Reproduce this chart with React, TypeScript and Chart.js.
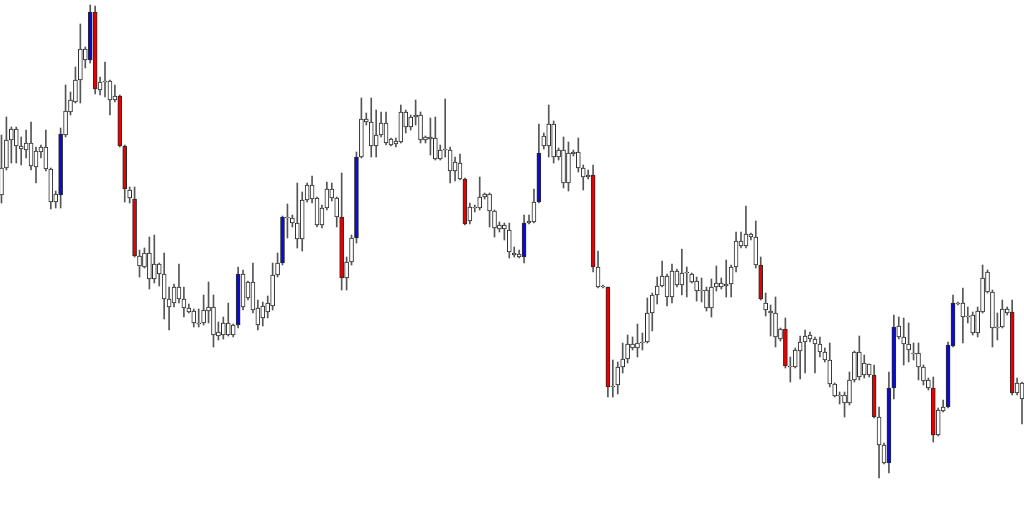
import { useEffect, useRef } from "react";
import { Chart, registerables } from "chart.js";

Chart.register(...registerables);

// Price levels on a downward (reversed) scale: smaller = higher price.
const wickTop = [
  135, 117, 127, 127, 137, 130, 122, 147, 145, 130,
  168, 191, 128, 85, 92, 67, 24, 47, 5, 6,
  77, 62, 80, 85, 95, 145, 187, 187, 250, 248,
  237, 235, 263, 253, 287, 284, 264, 287, 304, 309,
  309, 295, 282, 295, 322, 317, 303, 324, 267, 270,
  281, 263, 300, 302, 296, 263, 253, 216, 204, 215,
  183, 192, 183, 176, 197, 205, 182, 183, 197, 173,
  257, 235, 152, 98, 113, 98, 110, 112, 112, 138,
  138, 105, 110, 115, 100, 112, 136, 118, 117, 145,
  99, 147, 157, 154, 178, 203, 205, 177, 193, 193,
  210, 222, 223, 223, 247, 250, 215, 215, 189, 124,
  133, 105, 121, 148, 137, 142, 150, 138, 165, 170,
  165, 251, 285, 287, 360, 362, 343, 335, 337, 324,
  333, 298, 293, 277, 261, 274, 264, 269, 249, 267,
  273, 277, 278, 287, 279, 266, 278, 260, 265, 232,
  232, 206, 233, 221, 257, 293, 305, 297, 328, 318,
  357, 348, 336, 330, 332, 337, 337, 348, 343, 383,
  392, 392, 372, 351, 336, 355, 364, 365, 407, 443,
  372, 315, 317, 318, 323, 343, 343, 365, 378, 377,
  408, 400, 342, 295, 302, 288, 307, 312, 307, 265,
  270, 290, 313, 300, 307, 300, 378, 382,
];

const openLevel = [
  168, 140, 129, 129, 146, 143, 143, 151, 147, 147,
  169, 194, 195, 111, 100, 80, 49, 49, 60, 12,
  82, 81, 81, 96, 96, 146, 190, 199, 256, 253,
  253, 264, 264, 274, 299, 287, 287, 299, 308, 311,
  323, 310, 307, 307, 332, 323, 323, 325, 325, 274,
  282, 282, 308, 306, 303, 275, 263, 263, 217, 218,
  223, 200, 185, 185, 198, 208, 189, 189, 198, 217,
  262, 238, 238, 119, 119, 122, 135, 123, 123, 139,
  141, 112, 112, 117, 115, 115, 137, 137, 138, 150,
  149, 150, 162, 163, 179, 207, 207, 197, 194, 194,
  211, 225, 225, 230, 253, 254, 257, 221, 202, 202,
  136, 124, 124, 150, 150, 153, 152, 152, 168, 175,
  175, 267, 286, 287, 386, 367, 359, 344, 344, 343,
  342, 313, 295, 286, 276, 276, 271, 271, 273, 272,
  274, 281, 290, 290, 287, 283, 283, 284, 267, 241,
  241, 234, 234, 237, 265, 303, 311, 313, 329, 329,
  366, 350, 342, 336, 335, 339, 344, 352, 360, 384,
  395, 395, 380, 352, 352, 363, 364, 375, 417, 445,
  463, 388, 326, 337, 344, 353, 353, 367, 380, 388,
  410, 407, 407, 346, 303, 303, 316, 315, 311, 278,
  272, 292, 327, 309, 309, 312, 383, 383,
];

const closeLevel = [
  195, 168, 140, 146, 149, 150, 166, 167, 152, 169,
  202, 202, 134, 135, 112, 102, 80, 60, 12, 89,
  90, 82, 100, 100, 146, 189, 198, 256, 266, 267,
  279, 279, 274, 299, 307, 303, 299, 308, 312, 323,
  324, 323, 311, 335, 336, 335, 335, 335, 274, 307,
  298, 310, 325, 318, 312, 306, 275, 217, 218, 223,
  239, 239, 200, 199, 225, 225, 208, 198, 217, 278,
  278, 262, 157, 157, 122, 146, 146, 135, 143, 145,
  144, 142, 127, 127, 117, 140, 140, 139, 159, 159,
  150, 171, 171, 179, 224, 221, 208, 208, 197, 211,
  228, 229, 229, 252, 255, 257, 223, 223, 222, 153,
  146, 146, 157, 157, 183, 183, 154, 168, 177, 177,
  267, 287, 287, 387, 387, 385, 367, 359, 348, 348,
  343, 342, 313, 295, 286, 297, 297, 285, 285, 273,
  282, 291, 291, 308, 308, 287, 287, 286, 284, 267,
  246, 246, 237, 265, 299, 310, 313, 337, 339, 366,
  367, 367, 351, 342, 339, 344, 352, 360, 384, 396,
  396, 403, 403, 380, 377, 375, 375, 417, 445, 463,
  388, 327, 337, 344, 350, 354, 367, 381, 388, 435,
  435, 411, 345, 303, 304, 317, 317, 333, 333, 312,
  292, 328, 328, 327, 313, 393, 393, 399,
];

const wickBottom = [
  203, 170, 163, 163, 165, 158, 170, 183, 158, 171,
  209, 208, 208, 137, 115, 103, 103, 68, 63, 94,
  95, 97, 115, 102, 147, 202, 203, 257, 277, 268,
  289, 283, 286, 319, 330, 307, 303, 317, 313, 327,
  327, 325, 323, 347, 340, 339, 336, 337, 328, 310,
  300, 313, 330, 326, 318, 310, 277, 265, 238, 227,
  248, 251, 202, 203, 227, 228, 210, 201, 227, 290,
  290, 265, 243, 158, 125, 157, 157, 137, 145, 146,
  147, 143, 133, 130, 125, 143, 143, 155, 160, 160,
  157, 183, 181, 180, 225, 224, 212, 210, 199, 227,
  237, 232, 240, 258, 257, 258, 263, 224, 223, 203,
  149, 157, 163, 160, 188, 191, 156, 172, 190, 179,
  272, 288, 288, 397, 397, 394, 373, 363, 350, 357,
  350, 343, 331, 304, 287, 306, 303, 287, 295, 297,
  283, 301, 302, 311, 317, 291, 289, 297, 297, 272,
  248, 248, 240, 268, 300, 316, 336, 347, 341, 368,
  382, 368, 379, 373, 342, 373, 357, 362, 387, 397,
  404, 417, 405, 382, 380, 378, 377, 418, 478, 464,
  473, 399, 339, 365, 362, 360, 380, 385, 390, 442,
  436, 412, 408, 347, 305, 343, 323, 335, 337, 313,
  293, 347, 340, 328, 315, 395, 395, 424,
];

// Highlighted strong candles
const strongBull = [12, 18, 48, 57, 72, 106, 109, 180, 181, 192, 193];
const strongBear = [19, 24, 25, 27, 69, 94, 120, 123, 154, 159, 177, 189, 205];

const candleIndex = wickTop.map((_, i) => i);

export default function App() {
  const ref = useRef<HTMLCanvasElement | null>(null);

  useEffect(() => {
    document.body.style.margin = "0";
    document.body.style.background = "#ffffff";
    const canvas = ref.current;
    if (!canvas) return;

    const bodyColors = candleIndex.map((i) =>
      strongBull.includes(i) ? "#0a0ad2" : strongBear.includes(i) ? "#e60000" : "#ffffff"
    );

    const chart = new Chart(canvas, {
      type: "bar",
      data: {
        datasets: [
          {
            label: "body",
            data: candleIndex.map((i) => ({ x: i, y: [openLevel[i], closeLevel[i]] })),
            backgroundColor: bodyColors,
            borderColor: "#2a2a2a",
            borderWidth: 1,
            borderSkipped: false,
            barThickness: 4,
            minBarLength: 1,
            grouped: false,
            order: 0,
          } as any,
          {
            label: "wick",
            data: candleIndex.map((i) => ({ x: i, y: [wickTop[i], wickBottom[i]] })),
            backgroundColor: "#555555",
            borderWidth: 0,
            barThickness: 1,
            grouped: false,
            order: 1,
          } as any,
        ],
      },
      options: {
        responsive: false,
        animation: false,
        layout: { padding: 0 },
        plugins: {
          legend: { display: false },
          tooltip: { enabled: false },
        },
        scales: {
          x: {
            type: "linear",
            min: -0.3,
            max: 207.4,
            offset: false,
            display: false,
          },
          y: {
            type: "linear",
            min: 0,
            max: 506,
            reverse: true,
            display: false,
          },
        },
      },
    });

    return () => chart.destroy();
  }, []);

  return (
    <div style={{ width: 1024, height: 506 }}>
      <canvas ref={ref} width={1024} height={506} style={{ display: "block" }} />
    </div>
  );
}
